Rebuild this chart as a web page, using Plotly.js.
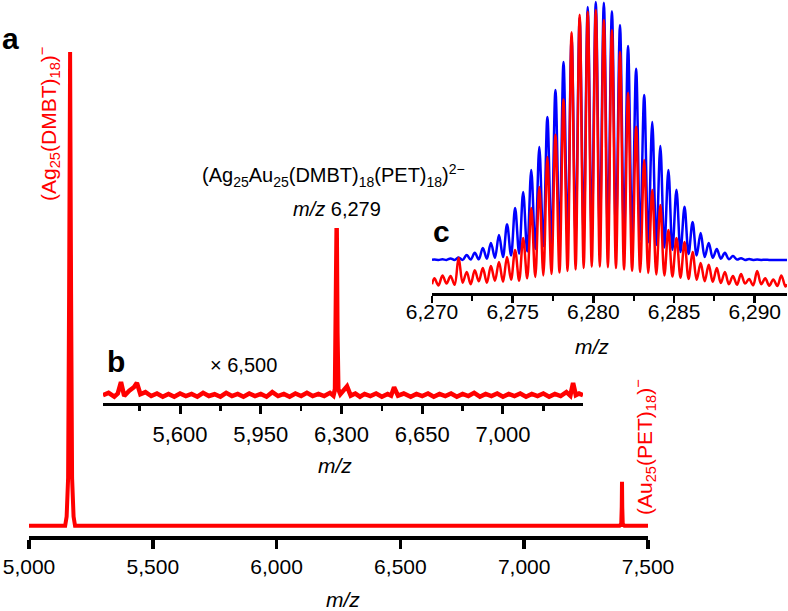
<!DOCTYPE html>
<html>
<head>
<meta charset="utf-8">
<script src="https://cdn.plot.ly/plotly-3.0.1.min.js"></script>
<style>
  html, body { margin: 0; padding: 0; background: #fff; }
  #chart { width: 788px; height: 611px; }
</style>
</head>
<body>
<div id="chart"></div>
<script>
// panel a: full spectrum
const aMz = [5000, 5146, 5152, 5158, 5162, 5166, 5170, 5174, 5180, 5186, 7385, 7392, 7394, 7395, 7396, 7398, 7405, 7500];
const aInt = [2.1, 2.1, 4, 12, 50, 100, 50, 12, 4, 2.1, 2.1, 2.5, 6, 11.2, 6, 2.5, 2.1, 2.1];

// panel b: x6,500 zoom of the baseline
const bMz = [
  5266, 5290, 5315, 5330, 5344, 5358, 5380, 5400, 5413, 5428,
  5450, 5475, 5500, 5525, 5550, 5575, 5600, 5625, 5650, 5675,
  5700, 5725, 5750, 5775, 5800, 5825, 5850, 5875, 5900, 5925,
  5950, 5975, 6000, 6025, 6050, 6075, 6100, 6125, 6150, 6175,
  6200, 6225, 6250, 6265, 6272, 6276, 6279, 6282, 6286, 6295,
  6310, 6324, 6340, 6360, 6380, 6400, 6425, 6450, 6475, 6500,
  6515, 6528, 6545, 6570, 6600, 6625, 6650, 6675, 6700, 6725,
  6750, 6775, 6800, 6825, 6850, 6875, 6900, 6925, 6950, 6975,
  7000, 7025, 7050, 7075, 7100, 7125, 7150, 7175, 7200, 7225,
  7250, 7275, 7292, 7304, 7316, 7330, 7347
];
const bInt = [
  4.5, 5.8, 3.6, 5.4, 12.0, 4.0, 7.0, 9.0, 11.5, 5.0,
  6.2, 4.0, 5.4, 3.6, 5.2, 3.6, 5.4, 4.0, 5.2, 3.6,
  5.8, 4.0, 5.0, 3.6, 5.8, 4.0, 5.2, 3.6, 5.4, 4.0,
  5.2, 3.6, 6.2, 4.0, 5.2, 3.6, 5.4, 4.0, 5.8, 4.0,
  5.2, 4.0, 5.8, 4.2, 8.0, 40, 100, 40, 8.0, 5.0,
  7.0, 9.5, 4.2, 5.4, 3.6, 5.2, 4.0, 5.4, 3.6, 5.2,
  4.2, 9.0, 4.2, 5.4, 3.6, 5.2, 4.0, 5.4, 3.6, 5.2,
  4.0, 5.4, 3.6, 5.2, 4.0, 5.8, 3.6, 5.2, 4.0, 5.4,
  3.6, 5.2, 4.0, 5.4, 3.6, 5.2, 4.0, 5.4, 3.6, 5.2,
  4.0, 6.2, 4.2, 11.5, 4.5, 5.4, 4.5
];

// panel c: isotope pattern, peaks and valleys (blue = simulated, red = experiment)
const cMz = [
  6270.00,
  6270.15, 6270.40, 6270.65, 6270.90, 6271.15, 6271.40, 6271.65, 6271.90,
  6272.15, 6272.40, 6272.65, 6272.90, 6273.15, 6273.40, 6273.65, 6273.90,
  6274.15, 6274.40, 6274.65, 6274.90, 6275.15, 6275.40, 6275.65, 6275.90,
  6276.15, 6276.40, 6276.65, 6276.90, 6277.15, 6277.40, 6277.65, 6277.90,
  6278.15, 6278.40, 6278.65, 6278.90, 6279.15, 6279.40, 6279.65, 6279.90,
  6280.15, 6280.40, 6280.65, 6280.90, 6281.15, 6281.40, 6281.65, 6281.90,
  6282.15, 6282.40, 6282.65, 6282.90, 6283.15, 6283.40, 6283.65, 6283.90,
  6284.15, 6284.40, 6284.65, 6284.90, 6285.15, 6285.40, 6285.65, 6285.90,
  6286.15, 6286.40, 6286.65, 6286.90, 6287.15, 6287.40, 6287.65, 6287.90,
  6288.15, 6288.40, 6288.65, 6288.90, 6289.15, 6289.40, 6289.65, 6289.90,
  6290.15, 6290.40, 6290.65, 6290.90, 6291.15, 6291.40, 6291.65, 6291.90,
  6292.00
];
const cSim = [
  11.3,
  11.4, 11.3, 11.5, 11.3, 11.8, 11.3, 12.1, 11.3,
  13.0, 11.4, 13.7, 11.5, 15.4, 11.7, 17.1, 12.0,
  19.8, 12.3, 23.5, 12.8, 29.0, 13.4, 34.5, 14.2,
  42.0, 15.0, 49.8, 16.0, 60.1, 17.0, 69.3, 18.0,
  78.8, 19.0, 87.0, 19.8, 93.9, 20.3, 97.6, 20.6,
  99.3, 20.7, 99.1, 20.5, 96.2, 20.2, 91.5, 19.7,
  84.3, 19.0, 76.5, 18.2, 67.6, 17.3, 58.4, 16.4,
  50.2, 15.5, 42.0, 14.7, 35.2, 14.0, 29.4, 13.3,
  24.2, 12.8, 20.5, 12.3, 17.1, 12.0, 15.0, 11.7,
  13.7, 11.5, 12.6, 11.4, 11.9, 11.3, 11.6, 11.3,
  11.4, 11.3, 11.35, 11.3, 11.3, 11.3, 11.3, 11.3,
  11.3
];
const cExp = [
  3.0,
  5.0, 2.6, 6.0, 3.2, 5.8, 2.8, 12.0, 3.5,
  7.2, 3.0, 7.8, 4.0, 8.5, 3.5, 9.2, 4.2,
  10.6, 3.8, 12.3, 4.5, 14.7, 4.2, 18.8, 5.0,
  29.0, 5.5, 36.2, 6.0, 46.4, 6.5, 54.0, 7.0,
  66.0, 7.5, 89.0, 8.0, 95.0, 8.5, 96.0, 9.0,
  96.6, 9.0, 93.2, 8.8, 89.8, 8.5, 82.3, 8.0,
  68.3, 7.6, 56.7, 7.2, 45.4, 6.8, 35.2, 6.3,
  30.0, 6.0, 21.5, 5.6, 18.8, 5.2, 17.4, 4.8,
  14.0, 4.5, 10.2, 4.0, 9.6, 3.8, 8.5, 3.4,
  7.2, 3.0, 5.8, 2.8, 6.5, 3.2, 4.8, 2.6,
  7.5, 3.0, 5.0, 2.5, 4.6, 2.4, 6.0, 2.2,
  3.0
];

const RED = 'rgb(255,0,0)';
const BLUE = 'rgb(0,0,255)';
const FONT = 'Liberation Sans, Arial, Helvetica, sans-serif';

const data = [
  {x: aMz, y: aInt, xaxis: 'x', yaxis: 'y', type: 'scatter', mode: 'lines',
   line: {color: RED, width: 4}, hoverinfo: 'skip'},
  {x: bMz, y: bInt, xaxis: 'x2', yaxis: 'y2', type: 'scatter', mode: 'lines',
   line: {color: RED, width: 4.5}, hoverinfo: 'skip'},
  {x: cMz, y: cSim, xaxis: 'x3', yaxis: 'y3', type: 'scatter', mode: 'lines',
   line: {color: BLUE, width: 2.5, shape: 'spline', smoothing: 1}, hoverinfo: 'skip'},
  {x: cMz, y: cExp, xaxis: 'x3', yaxis: 'y3', type: 'scatter', mode: 'lines',
   line: {color: RED, width: 2.5, shape: 'spline', smoothing: 1}, hoverinfo: 'skip'}
];

const W = 788, H = 611;
const px = v => v / W;
const py = v => 1 - v / H;

const baseAxis = {
  showline: true, linecolor: '#000', ticks: 'outside', tickcolor: '#000',
  showgrid: false, zeroline: false, tickformat: ',d', fixedrange: true,
  tickfont: {size: 21, color: '#000'}
};

const layout = {
  width: W,
  height: H,
  margin: {l: 0, r: 0, t: 0, b: 0},
  showlegend: false,
  paper_bgcolor: '#fff',
  plot_bgcolor: 'rgba(0,0,0,0)',
  font: {family: FONT, size: 20, color: '#000'},
  xaxis: Object.assign({}, baseAxis, {
    domain: [px(29), px(648)], range: [5000, 7500], anchor: 'y',
    linewidth: 3.5, tickwidth: 3.5, ticklen: 9, tick0: 5000, dtick: 500,
    ticklabelstandoff: 0
  }),
  yaxis: {domain: [py(536), py(27.8)], range: [0, 105], visible: false, anchor: 'x', fixedrange: true},
  xaxis2: Object.assign({}, baseAxis, {
    domain: [px(103), px(583)], range: [5266, 7347], anchor: 'y2',
    linewidth: 3, tickwidth: 3, ticklen: 8, tick0: 5600, dtick: 350,
    tickfont: {size: 22, color: '#000'},
    minor: {ticks: 'outside', tick0: 5425, dtick: 175, ticklen: 5, tickwidth: 2.5, tickcolor: '#000', showgrid: false},
    ticklabelstandoff: 2
  }),
  yaxis2: {domain: [py(403), py(219.25)], range: [0, 105], visible: false, anchor: 'x2', fixedrange: true},
  xaxis3: Object.assign({}, baseAxis, {
    domain: [px(432), px(787)], range: [6270, 6292], anchor: 'y3',
    linewidth: 2.5, tickwidth: 2.5, ticklen: 7, tick0: 6270, dtick: 5,
    minor: {ticks: 'outside', tick0: 6270, dtick: 2.5, ticklen: 5, tickwidth: 2, tickcolor: '#000', showgrid: false},
    ticklabelstandoff: -9
  }),
  yaxis3: {domain: [py(293), 1], range: [0, 100], visible: false, anchor: 'x3', fixedrange: true},
  annotations: [
    // panel letters
    {text: '<b>a</b>', x: px(10), y: py(38), font: {size: 30}},
    {text: '<b>b</b>', x: px(116), y: py(361), font: {size: 30}},
    {text: '<b>c</b>', x: px(442), y: py(231), font: {size: 30}},
    // axis titles
    {text: '<i>m/z</i>', x: px(343), y: py(599), font: {size: 21}},
    {text: '<i>m/z</i>', x: px(335), y: py(465), font: {size: 21}},
    {text: '<i>m/z</i>', x: px(592), y: py(346), font: {size: 21}},
    // peak labels
    {text: '(Ag<sub>25</sub>(DMBT)<sub>18</sub>)<sup>−</sup>', x: px(48), y: py(124),
     textangle: -90, font: {size: 21, color: RED}},
    {text: '(Au<sub>25</sub>(PET)<sub>18</sub>)<sup>−</sup>', x: px(644), y: py(447),
     textangle: -90, font: {size: 21, color: RED}},
    {text: '(Ag<sub>25</sub>Au<sub>25</sub>(DMBT)<sub>18</sub>(PET)<sub>18</sub>)<sup>2−</sup>',
     x: px(333), y: py(176), font: {size: 20}},
    {text: '<i>m/z</i> 6,279', x: px(337), y: py(209), font: {size: 20}},
    {text: '× 6,500', x: px(243), y: py(365), font: {size: 20}}
  ].map(a => Object.assign({xref: 'paper', yref: 'paper', xanchor: 'center', yanchor: 'middle',
                            showarrow: false}, a))
};

Plotly.newPlot('chart', data, layout, {displayModeBar: false, staticPlot: true});
</script>
</body>
</html>
